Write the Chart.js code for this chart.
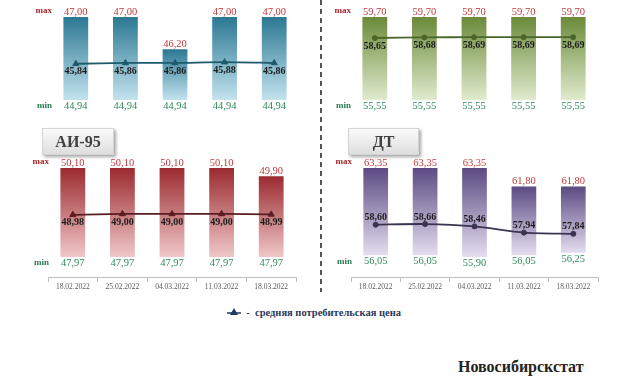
<!DOCTYPE html>
<html>
<head>
<meta charset="utf-8">
<script src="https://cdn.jsdelivr.net/npm/chart.js@4/dist/chart.umd.min.js"></script>
<style>
  html, body { margin: 0; padding: 0; background: #fff; }
  #page { position: relative; width: 640px; height: 384px; overflow: hidden; font-family: 'Liberation Serif', 'Times New Roman', serif; }
  canvas { position: absolute; }
  .fuel-box {
    position: absolute; height: 25px; line-height: 25px; text-align: center;
    font-weight: bold; font-size: 16px; color: #404040;
    background: linear-gradient(#fafafa, #dedede);
    border: 1px solid #d4d4d4;
    box-shadow: 2px 2px 3px rgba(0, 0, 0, 0.35);
  }
  #divider {
    position: absolute; left: 320px; top: 0; width: 2px; height: 292px;
    background: repeating-linear-gradient(to bottom, #555 0 5px, transparent 5px 9px);
  }
  #legend { position: absolute; left: 227px; top: 306px; font-family: 'Liberation Serif', serif; font-size: 10.5px; font-weight: bold; color: #1f3a60; white-space: nowrap; line-height: 14px; }
  #legend svg { vertical-align: -1px; }
  #source { position: absolute; left: 458px; top: 358px; font-size: 16px; font-weight: bold; color: #222; line-height: 18px; }
</style>
</head>
<body>
<div id="page">
  <canvas id="chart-ai92" width="320" height="120" style="left:0;top:0"></canvas>
  <canvas id="chart-ai98" width="318" height="120" style="left:322px;top:0"></canvas>
  <canvas id="chart-ai95" width="320" height="180" style="left:0;top:120px"></canvas>
  <canvas id="chart-dt" width="318" height="180" style="left:322px;top:120px"></canvas>
  <div id="divider"></div>
  <div class="fuel-box" style="left:42px;top:128px;width:70px">АИ-95</div>
  <div class="fuel-box" style="left:348px;top:128px;width:69px">ДТ</div>
  <div id="legend">
    <svg width="14" height="9"><line x1="0" y1="5" x2="14" y2="5" stroke="#1f3a60" stroke-width="1.5"/><polygon points="7,0 11,7 3,7" fill="#1f3a60"/></svg>
    &nbsp;-&nbsp; средняя потребительская цена
  </div>
  <div id="source">Новосибирскстат</div>
</div>

<script>
// --- data ---
const dates = ['18.02.2022', '25.02.2022', '04.03.2022', '11.03.2022', '18.03.2022'];

const ai92Max = [47.00, 47.00, 46.20, 47.00, 47.00];
const ai92Min = [44.94, 44.94, 44.94, 44.94, 44.94];
const ai92Avg = [45.84, 45.86, 45.86, 45.88, 45.86];

const ai98Max = [59.70, 59.70, 59.70, 59.70, 59.70];
const ai98Min = [55.55, 55.55, 55.55, 55.55, 55.55];
const ai98Avg = [58.65, 58.68, 58.69, 58.69, 58.69];

const ai95Max = [50.10, 50.10, 50.10, 50.10, 49.90];
const ai95Min = [47.97, 47.97, 47.97, 47.97, 47.97];
const ai95Avg = [48.98, 49.00, 49.00, 49.00, 48.99];

const dtMax = [63.35, 63.35, 63.35, 61.80, 61.80];
const dtMin = [56.05, 56.05, 55.90, 56.05, 56.25];
const dtAvg = [58.60, 58.66, 58.46, 57.94, 57.84];

const SERIF = "'Liberation Serif', 'Times New Roman', serif";
const fmt = v => v.toFixed(2).replace('.', ',');

// labels: max / min / average values, and the "max" "min" captions
const priceLabels = {
    id: 'priceLabels',
    afterDatasetsDraw(chart, args, opts) {
        const ctx = chart.ctx;
        const bars = chart.getDatasetMeta(0).data;
        const points = chart.getDatasetMeta(1).data;
        ctx.save();
        ctx.textAlign = 'center';
        bars.forEach((bar, i) => {
            ctx.font = `10.5px ${SERIF}`;
            ctx.fillStyle = '#c0393b';
            ctx.textBaseline = 'bottom';
            ctx.fillText(fmt(opts.max[i]), bar.x, bar.y);
            ctx.fillStyle = '#2f8a5a';
            ctx.textBaseline = 'top';
            ctx.fillText(fmt(opts.min[i]), bar.x, bar.base + 1);
        });
        ctx.font = `bold 10px ${SERIF}`;
        ctx.fillStyle = '#1c1c1c';
        points.forEach((pt, i) => {
            if (opts.avgAbove) {
                ctx.textBaseline = 'bottom';
                ctx.fillText(fmt(opts.avg[i]), pt.x, pt.y - 2);
            } else {
                ctx.textBaseline = 'top';
                ctx.fillText(fmt(opts.avg[i]), pt.x, pt.y + 3);
            }
        });
        const left = chart.chartArea.left + 1;
        ctx.textAlign = 'right';
        ctx.textBaseline = 'middle';
        ctx.font = `bold 9px ${SERIF}`;
        ctx.fillStyle = '#a8262c';
        ctx.fillText('max', left, bars[0].y - 6);
        ctx.fillStyle = '#2b7a50';
        ctx.fillText('min', left, bars[0].base + 6);
        ctx.restore();
    }
};

function makePanel(canvasId, maxArr, minArr, avgArr, cfg) {
    const canvas = document.getElementById(canvasId);
    const hi = Math.max(...maxArr);
    const lo = Math.min(...minArr);
    // bottom panels keep a gap between the bars and the date axis
    const yMin = cfg.showDates ? lo - (hi - lo) * cfg.axisGap / cfg.plotH : lo;

    return new Chart(canvas.getContext('2d'), {
        type: 'bar',
        data: {
            labels: dates,
            datasets: [{
                type: 'bar',
                data: minArr.map((v, i) => [v, maxArr[i]]),
                order: 1,
                barPercentage: 0.5,
                categoryPercentage: 1.0,
                borderWidth: 0,
                backgroundColor: (c) => {
                    const chart = c.chart;
                    if (!chart.chartArea || c.dataIndex === undefined) return cfg.top;
                    const y = chart.scales.y;
                    const t = y.getPixelForValue(maxArr[c.dataIndex]);
                    const b = y.getPixelForValue(minArr[c.dataIndex]);
                    const g = chart.ctx.createLinearGradient(0, t, 0, b);
                    g.addColorStop(0, cfg.top);
                    g.addColorStop(1, cfg.bottom);
                    return g;
                }
            }, {
                type: 'line',
                data: avgArr,
                order: 0,
                borderColor: cfg.line,
                borderWidth: 1.8,
                tension: 0.25,
                pointStyle: cfg.marker,
                pointRadius: cfg.marker === 'triangle' ? 3.5 : 2.5,
                pointBackgroundColor: cfg.line,
                pointBorderColor: cfg.line,
                pointBorderWidth: 1
            }]
        },
        options: {
            responsive: false,
            animation: false,
            layout: { padding: cfg.padding },
            plugins: {
                legend: { display: false },
                tooltip: { enabled: false },
                priceLabels: { max: maxArr, min: minArr, avg: avgArr, avgAbove: cfg.avgAbove }
            },
            scales: {
                x: {
                    display: cfg.showDates,
                    offset: true,
                    border: { display: true, color: '#bdbdbd', width: 1 },
                    grid: { display: true, drawOnChartArea: false, drawTicks: true, tickLength: 5, offset: true, color: '#bdbdbd' },
                    ticks: { color: '#5a5a5a', font: { family: SERIF, size: 7.5 }, padding: 1, maxRotation: 0 },
                    afterFit: s => { s.height = cfg.showDates ? 20 : 0; }
                },
                y: { display: false, min: yMin, max: hi }
            }
        },
        plugins: [priceLabels]
    });
}

makePanel('chart-ai92', ai92Max, ai92Min, ai92Avg, {
    top: '#2b7893', bottom: '#c3e3ee', line: '#1d5a6c', marker: 'triangle', avgAbove: false,
    showDates: false, padding: { left: 51, right: 21, top: 17, bottom: 20 }
});
makePanel('chart-ai98', ai98Max, ai98Min, ai98Avg, {
    top: '#6a8a39', bottom: '#e1ebce', line: '#4a6628', marker: 'circle', avgAbove: false,
    showDates: false, padding: { left: 28, right: 42, top: 17, bottom: 20 }
});
makePanel('chart-ai95', ai95Max, ai95Min, ai95Avg, {
    top: '#9b2a2f', bottom: '#f0c7c8', line: '#5a1c20', marker: 'triangle', avgAbove: false,
    showDates: true, axisGap: 20, plotH: 89, padding: { left: 48, right: 24, top: 48, bottom: 3 }
});
makePanel('chart-dt', dtMax, dtMin, dtAvg, {
    top: '#5b4a82', bottom: '#e4ddf0', line: '#3a3450', marker: 'circle', avgAbove: true,
    showDates: true, axisGap: 20, plotH: 89, padding: { left: 29, right: 42, top: 48, bottom: 3 }
});
</script>
</body>
</html>
